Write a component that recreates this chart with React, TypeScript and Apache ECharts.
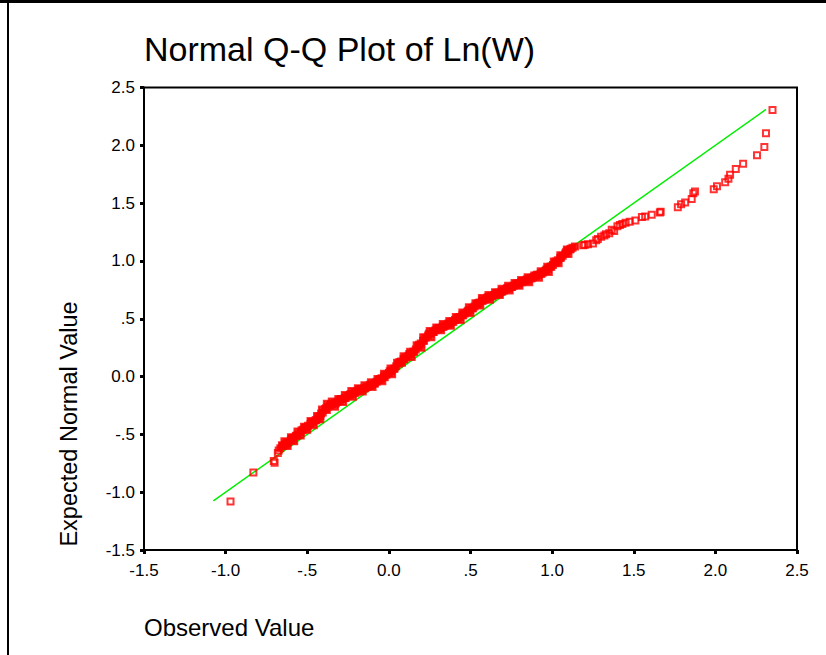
import React, { useEffect, useRef } from "react";
import * as echarts from "echarts";

const FONT = "'Liberation Sans', Arial, Helvetica, sans-serif";

const chartTitle = "Normal Q-Q Plot of Ln(W)";
const xAxisTitle = "Observed Value";
const yAxisTitle = "Expected Normal Value";

const tickValues = [-1.5, -1.0, -0.5, 0.0, 0.5, 1.0, 1.5, 2.0, 2.5];
const xTickLabels = ["-1.5", "-1.0", "-.5", "0.0", ".5", "1.0", "1.5", "2.0", "2.5"];
const yTickLabels = ["-1.5", "-1.0", "-.5", "0.0", ".5", "1.0", "1.5", "2.0", "2.5"];

// reference line (observed, expected)
const refLine = [
  [-1.075, -1.075],
  [2.31, 2.31],
];

// lower tail [observed, expected]
const lowTail = [
  [-0.97, -1.08], [-0.83, -0.83], [-0.70, -0.745], [-0.705, -0.73], [-0.68, -0.66], [-0.675, -0.64],
];

// dense central band [observed, expected]
const centralBand = [
  [-0.665, -0.62], [-0.65, -0.6], [-0.635, -0.585], [-0.62, -0.57], [-0.6, -0.55], [-0.585, -0.53],
  [-0.57, -0.515], [-0.555, -0.5], [-0.54, -0.48], [-0.525, -0.46], [-0.51, -0.44], [-0.495, -0.425],
  [-0.48, -0.41], [-0.465, -0.395], [-0.45, -0.38], [-0.435, -0.36], [-0.42, -0.34], [-0.405, -0.31],
  [-0.39, -0.28], [-0.375, -0.26], [-0.36, -0.25], [-0.345, -0.24], [-0.33, -0.23], [-0.315, -0.22],
  [-0.3, -0.205], [-0.285, -0.195], [-0.27, -0.185], [-0.255, -0.17], [-0.24, -0.16], [-0.225, -0.15],
  [-0.21, -0.14], [-0.195, -0.13], [-0.18, -0.12], [-0.165, -0.11], [-0.15, -0.1], [-0.135, -0.09],
  [-0.12, -0.08], [-0.105, -0.07], [-0.09, -0.06], [-0.075, -0.045], [-0.06, -0.03], [-0.045, -0.015],
  [-0.03, 0.0], [-0.015, 0.015], [0.0, 0.03], [0.015, 0.045], [0.03, 0.065], [0.045, 0.09],
  [0.06, 0.11], [0.075, 0.13], [0.09, 0.15], [0.105, 0.165], [0.12, 0.18], [0.135, 0.195],
  [0.15, 0.215], [0.165, 0.235], [0.18, 0.26], [0.195, 0.285], [0.21, 0.31], [0.225, 0.335],
  [0.24, 0.355], [0.255, 0.37], [0.27, 0.385], [0.285, 0.4], [0.3, 0.41], [0.315, 0.42],
  [0.33, 0.43], [0.345, 0.44], [0.36, 0.45], [0.375, 0.46], [0.39, 0.475], [0.405, 0.49],
  [0.42, 0.5], [0.435, 0.515], [0.45, 0.53], [0.465, 0.545], [0.48, 0.56], [0.495, 0.575],
  [0.51, 0.59], [0.525, 0.605], [0.54, 0.625], [0.555, 0.64], [0.57, 0.655], [0.585, 0.665],
  [0.6, 0.675], [0.615, 0.685], [0.63, 0.695], [0.645, 0.705], [0.66, 0.715], [0.675, 0.725],
  [0.69, 0.735], [0.705, 0.745], [0.72, 0.755], [0.735, 0.765], [0.75, 0.775], [0.765, 0.785],
  [0.78, 0.795], [0.795, 0.805], [0.81, 0.815], [0.825, 0.825], [0.84, 0.83], [0.855, 0.84],
  [0.87, 0.85], [0.885, 0.86], [0.9, 0.87], [0.915, 0.88], [0.93, 0.89], [0.945, 0.9],
  [0.96, 0.915], [0.975, 0.93], [0.99, 0.95], [1.005, 0.965], [1.02, 0.985], [1.035, 1.005],
  [1.05, 1.025], [1.065, 1.045], [1.08, 1.065], [1.095, 1.085], [1.11, 1.1], [1.125, 1.115],
  [1.14, 1.125],
];

// band points lying a little above the band's centre
const bandUpper = [
  [-0.64, -0.56], [-0.6, -0.525], [-0.56, -0.475], [-0.52, -0.435], [-0.48, -0.385], [-0.44, -0.34],
  [-0.41, -0.285], [-0.38, -0.235], [-0.35, -0.215], [-0.31, -0.195], [-0.27, -0.16], [-0.23, -0.125],
  [-0.19, -0.1], [-0.15, -0.075], [-0.11, -0.05], [-0.07, -0.02], [-0.03, 0.025], [0.01, 0.07],
  [0.05, 0.12], [0.09, 0.175], [0.13, 0.215], [0.17, 0.27], [0.21, 0.34], [0.25, 0.395],
  [0.29, 0.425], [0.33, 0.455], [0.37, 0.48], [0.41, 0.515], [0.45, 0.555], [0.49, 0.6],
  [0.53, 0.635], [0.57, 0.68], [0.61, 0.705], [0.65, 0.73], [0.69, 0.76], [0.73, 0.785],
  [0.77, 0.81], [0.81, 0.835], [0.85, 0.86], [0.89, 0.875], [0.93, 0.91], [0.97, 0.95],
  [1.01, 0.995], [1.05, 1.05], [1.09, 1.1],
];

// band points lying a little below the band's centre
const bandLower = [
  [-0.62, -0.6], [-0.58, -0.56], [-0.54, -0.51], [-0.5, -0.46], [-0.46, -0.42], [-0.42, -0.37],
  [-0.38, -0.29], [-0.33, -0.26], [-0.28, -0.22], [-0.22, -0.175], [-0.16, -0.13], [-0.1, -0.09],
  [-0.04, -0.04], [0.02, 0.02], [0.08, 0.12], [0.14, 0.17], [0.2, 0.25], [0.26, 0.34],
  [0.32, 0.4], [0.38, 0.44], [0.44, 0.49], [0.5, 0.55], [0.56, 0.615], [0.62, 0.665],
  [0.68, 0.705], [0.74, 0.745], [0.8, 0.785], [0.86, 0.815], [0.92, 0.855], [0.98, 0.905],
  [1.04, 0.98], [1.1, 1.06],
];

// further band points filling the gaps
const bandFill = [
  [-0.655, -0.595], [-0.625, -0.575], [-0.595, -0.535], [-0.565, -0.51], [-0.535, -0.465], [-0.505, -0.44],
  [-0.475, -0.395], [-0.445, -0.375], [-0.415, -0.32], [-0.385, -0.275], [-0.355, -0.24], [-0.325, -0.23],
  [-0.295, -0.195], [-0.265, -0.185], [-0.235, -0.15], [-0.205, -0.14], [-0.175, -0.11], [-0.145, -0.1],
  [-0.115, -0.07], [-0.085, -0.06], [-0.055, -0.02], [-0.025, -0.005], [0.005, 0.045], [0.035, 0.07],
  [0.065, 0.125], [0.095, 0.15], [0.125, 0.195], [0.155, 0.215], [0.185, 0.275], [0.215, 0.31],
  [0.245, 0.37], [0.275, 0.385], [0.305, 0.42], [0.335, 0.43], [0.365, 0.46], [0.395, 0.475],
  [0.425, 0.51], [0.455, 0.53], [0.485, 0.57], [0.515, 0.59], [0.545, 0.635], [0.575, 0.655],
  [0.605, 0.685], [0.635, 0.695], [0.665, 0.725], [0.695, 0.735], [0.725, 0.765], [0.755, 0.775],
  [0.785, 0.805], [0.815, 0.815], [0.845, 0.84], [0.875, 0.85], [0.905, 0.88], [0.935, 0.89],
  [0.965, 0.925], [0.995, 0.95], [1.025, 0.995], [1.055, 1.03], [1.085, 1.075], [1.115, 1.105],
];

// upper tail [observed, expected]
const highTail = [
  [1.19, 1.135], [1.2, 1.14], [1.22, 1.145], [1.25, 1.15], [1.27, 1.18], [1.28, 1.19],
  [1.3, 1.21], [1.32, 1.22], [1.33, 1.23], [1.35, 1.24], [1.365, 1.27], [1.38, 1.26],
  [1.4, 1.3], [1.415, 1.31], [1.43, 1.32], [1.45, 1.33], [1.475, 1.34], [1.51, 1.35],
  [1.55, 1.38], [1.57, 1.385], [1.61, 1.4], [1.66, 1.42], [1.665, 1.425], [1.77, 1.465],
  [1.79, 1.49], [1.815, 1.505], [1.855, 1.535], [1.865, 1.585], [1.875, 1.6], [1.99, 1.62],
  [2.01, 1.645], [2.06, 1.68], [2.08, 1.71], [2.09, 1.745], [2.125, 1.795], [2.17, 1.84],
  [2.255, 1.915], [2.3, 1.985], [2.31, 2.105], [2.35, 2.305],
];

function labelFor(labels: string[]) {
  return (v: number) => {
    const i = tickValues.findIndex((t) => Math.abs(t - v) < 1e-9);
    return i >= 0 ? labels[i] : "";
  };
}

export default function App() {
  const ref = useRef<HTMLDivElement>(null);
  useEffect(() => {
    if (!ref.current) return;
    const chart = echarts.init(ref.current, undefined, { renderer: "svg" });
    const axisCommon = {
      type: "value" as const,
      min: -1.5,
      max: 2.5,
      interval: 0.5,
      splitLine: { show: false },
      axisLine: { show: true, onZero: false, lineStyle: { color: "#000", width: 2 } },
      axisTick: { show: true, length: 4, lineStyle: { color: "#000", width: 3 } },
    };
    chart.setOption({
      animation: false,
      backgroundColor: "#ffffff",
      title: {
        text: chartTitle,
        left: 144,
        top: 32,
        padding: 0,
        textStyle: { fontFamily: FONT, fontSize: 34, fontWeight: "normal", color: "#000" },
      },
      grid: {
        left: 144,
        top: 87.5,
        right: 29,
        bottom: 105,
        show: true,
        borderColor: "#000",
        borderWidth: 2,
        backgroundColor: "transparent",
      },
      xAxis: {
        ...axisCommon,
        axisLabel: { margin: 12, fontSize: 17, color: "#000", fontFamily: FONT, formatter: labelFor(xTickLabels) },
      },
      yAxis: {
        ...axisCommon,
        axisLabel: { margin: 9, fontSize: 17, color: "#000", fontFamily: FONT, formatter: labelFor(yTickLabels) },
      },
      graphic: [
        { type: "rect", left: 0, top: 0, shape: { width: 826, height: 3 }, style: { fill: "#000" }, z: 100 },
        { type: "rect", left: 7, top: 0, shape: { width: 2, height: 655 }, style: { fill: "#000" }, z: 100 },
        {
          type: "text",
          x: 69,
          y: 424,
          rotation: Math.PI / 2,
          style: {
            text: yAxisTitle,
            fontSize: 23.5,
            fontFamily: FONT,
            fill: "#000",
            align: "center",
            verticalAlign: "middle",
            textAlign: "center",
            textVerticalAlign: "middle",
          },
        },
        {
          type: "text",
          x: 144,
          y: 627,
          style: {
            text: xAxisTitle,
            fontSize: 24,
            fontFamily: FONT,
            fill: "#000",
            align: "left",
            verticalAlign: "middle",
            textAlign: "left",
            textVerticalAlign: "middle",
          },
        },
      ],
      series: [
        {
          type: "line",
          data: refLine,
          symbol: "none",
          silent: true,
          lineStyle: { color: "#00ee00", width: 1.5 },
          z: 1,
        },
        {
          // dense overlapping markers merge into a solid band
          type: "scatter",
          data: [...centralBand, ...bandUpper, ...bandLower, ...bandFill],
          symbol: "rect",
          symbolSize: 6,
          itemStyle: { color: "#ff0000", borderColor: "#ff0000", borderWidth: 2 },
          z: 2,
        },
        {
          type: "scatter",
          data: [...lowTail, ...highTail],
          symbol: "rect",
          symbolSize: 6,
          itemStyle: { color: "rgba(0,0,0,0)", borderColor: "#ff0000", borderWidth: 2 },
          z: 3,
        },
      ],
    });
    return () => chart.dispose();
  }, []);
  return (
    <div
      ref={ref}
      style={{ position: "fixed", left: 0, top: 0, width: 826, height: 655, background: "#fff" }}
    />
  );
}
